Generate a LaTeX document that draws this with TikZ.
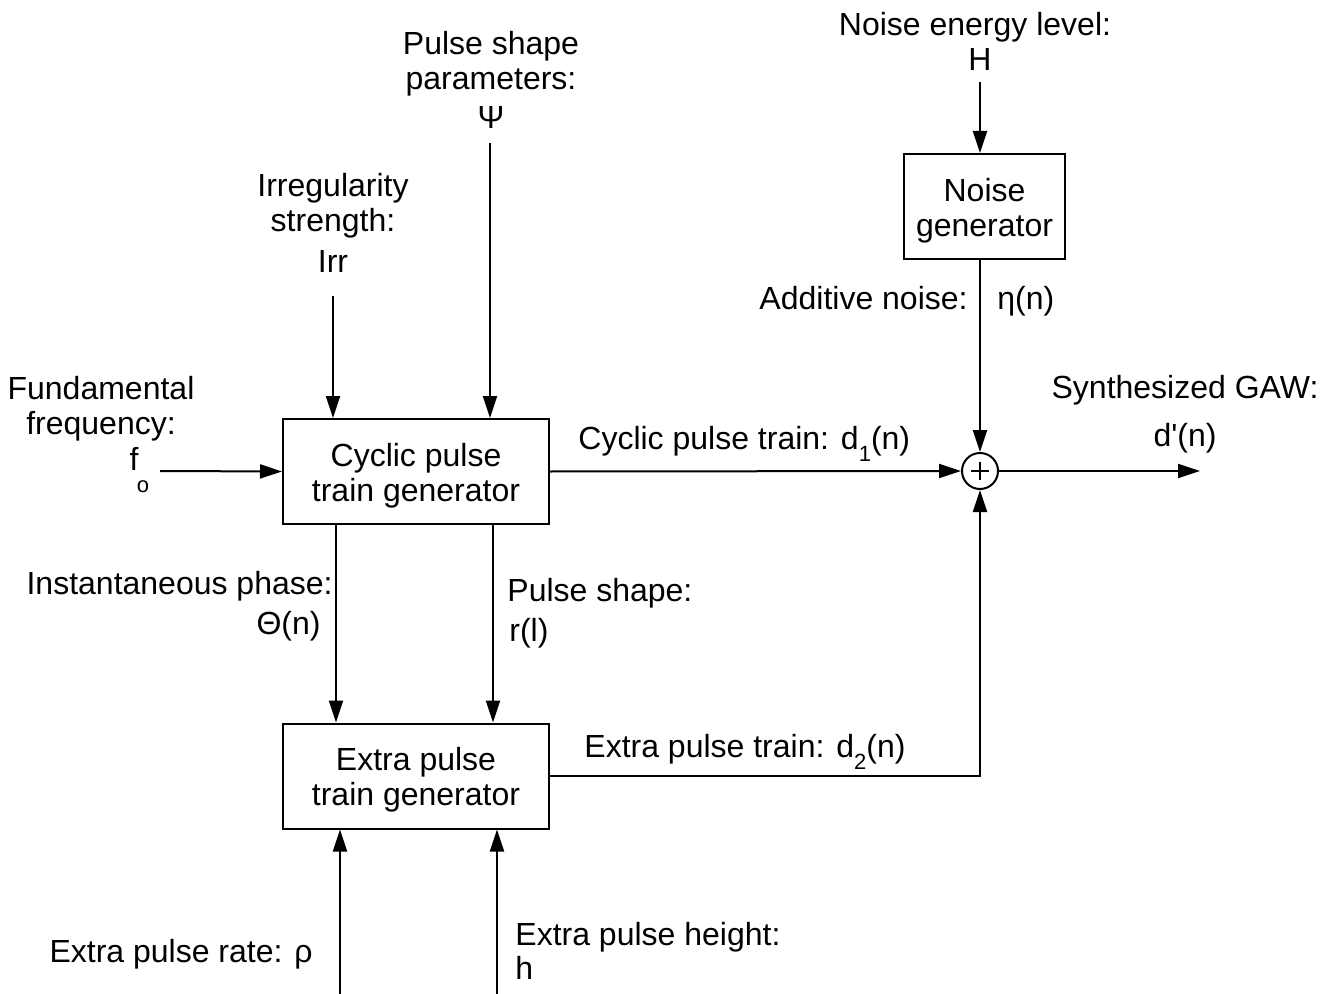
\documentclass[tikz,border=0pt]{standalone}
\usepackage{fontspec}
\setmainfont{Liberation Sans}
\newfontfamily\plainsans{Liberation Sans}
\usetikzlibrary{arrows.meta}
\newcommand{\subsc}[1]{\raisebox{-0.7ex}{\fontsize{11}{11}\selectfont #1}}
\begin{document}
\begin{tikzpicture}[x=0.5pt,y=-0.5pt,
  every node/.style={font=\fontsize{16}{17.5}\selectfont},
  block/.style={draw, line width=1pt, minimum width=133pt, minimum height=52.5pt, inner sep=0},
  lbl/.style={inner sep=0, align=center, yshift=-2pt},
  conn/.style={line width=1pt, -{Triangle[length=11pt,width=7pt]}}]
\useasboundingbox (0,0) rectangle (1337,994);
% blocks
\node[block] (cyc) at (416,471.5) {};
\node[lbl] (cyct) at (416,471.5) {Cyclic pulse\\train generator};
\node[block] (ext) at (416,776) {};
\node[lbl] (extt) at (416,776) {Extra pulse\\train generator};
\node[block, minimum width=80.5pt] (noise) at (984.5,206.5) {};
\node[lbl] (noiset) at (984.5,206.5) {Noise\\generator};
\node[draw, circle, line width=1pt, minimum size=18pt, inner sep=0] (sum) at (980,471) {};
\draw[line width=1pt] ([xshift=-4.3pt]sum.center) -- ([xshift=4.3pt]sum.center)
  ([yshift=-4.3pt]sum.center) -- ([yshift=4.3pt]sum.center);
% labels
\node[lbl] (fund) at (101,405) {Fundamental\\frequency:};
\node[lbl] (fl) at (134,455) {f};
\node[lbl, font=\fontsize{11}{11}\selectfont] (ol) at (143,483) {o};
\node[lbl] (irrl) at (333,202) {Irregularity\\strength:};
\node[lbl] (irrv) at (333,257) {Irr};
\node[lbl] (psil) at (491,59.5) {Pulse shape\\parameters:};
\node[lbl] (psiv) at (491,113) {Ψ};
\node[lbl] (nel) at (975,23) {Noise energy level:};
\node[lbl] (hv) at (980,55) {H};
\node[lbl, anchor=mid east] (addl) at (968,300) {Additive noise:};
\node[lbl, anchor=mid west] (eta) at (997,300) {η(n)};
\node[lbl] (gaw) at (1185,386) {Synthesized GAW:};
\node[lbl] (dout) at (1185,434) {{\plainsans d'(n)}};
\node[lbl, anchor=mid west] (d1l) at (578,440) {Cyclic pulse train: d\subsc{1}(n)};
\node[lbl, anchor=mid west] (d2l) at (584,748) {Extra pulse train: d\subsc{2}(n)};
\node[lbl, anchor=mid east] (phl) at (333,585) {Instantaneous phase:};
\node[lbl, anchor=mid east] (thv) at (321,625) {Θ(n)};
\node[lbl, anchor=mid west] (psl) at (507,592) {Pulse shape:};
\node[lbl, anchor=mid west] (rl) at (509,632) {r(l)};
\node[lbl, anchor=mid east] (rhol) at (313,953) {Extra pulse rate: ρ};
\node[lbl, anchor=mid west] (hl) at (515,936) {Extra pulse height:};
\node[lbl, anchor=mid west] (hh) at (515,970) {h};
% coordinates
\coordinate (fo) at (160,471);
\coordinate (irr) at (333,296);
\coordinate (psi) at (490,143);
\coordinate (thx) at (336,600);
\coordinate (rx) at (493,600);
\coordinate (rho) at (340,994);
\coordinate (hx) at (497,994);
\coordinate (H) at (980,82);
\coordinate (out) at (1200,471);
% connectors
\draw[conn] (fo) -- (cyc.west);
\draw[conn] (irr) -- (irr |- cyc.north);
\draw[conn] (psi) -- (psi |- cyc.north);
\draw[conn] (cyc.south -| thx) -- (ext.north -| thx);
\draw[conn] (cyc.south -| rx) -- (ext.north -| rx);
\draw[conn] (rho) -- (rho |- ext.south);
\draw[conn] (hx) -- (hx |- ext.south);
\draw[conn] (cyc.east) -- (sum.west);
\draw[conn] (ext.east) -| (sum.south);
\draw[conn] (H) -- (H |- noise.north);
\draw[conn] (noise.south -| sum) -- (sum.north);
\draw[conn] (sum.east) -- (out);
\end{tikzpicture}
\end{document}
